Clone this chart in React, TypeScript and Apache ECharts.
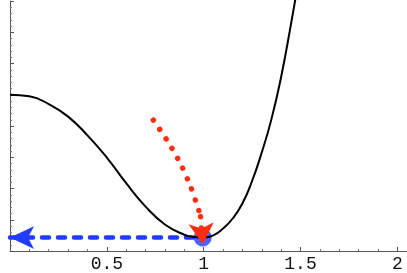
import React, { useEffect, useRef } from "react";
import * as echarts from "echarts";

// Black curve f(x)
const curveX = [0, 0.1, 0.2, 0.3, 0.4, 0.5, 0.6, 0.7, 0.8, 0.9, 0.95, 1.0, 1.05, 1.1, 1.15, 1.2, 1.25, 1.3, 1.35, 1.4, 1.45, 1.48];
const curveY = [5.0, 4.95, 4.7, 4.3, 3.7, 2.99, 2.17, 1.42, 0.85, 0.52, 0.45, 0.43, 0.5, 0.72, 1.04, 1.52, 2.24, 3.15, 4.22, 5.57, 7.23, 8.3];

// Red dotted path
const redX = [0.74, 0.809, 0.874, 0.925, 0.967, 0.984];
const redY = [4.19, 3.56, 2.87, 2.18, 1.46, 1.1];
const redArrowEnd = [0.996, 0.22];

// Blue dashed arrow and point
const bluePoint = [0.995, 0.43];
const blueArrowStart = [0.0, 0.43];

// Axis ticks
const xTickLabels = ["0.5", "1", "1.5", "2"];

export default function App() {
  const ref = useRef<HTMLDivElement>(null);
  useEffect(() => {
    if (!ref.current) return;
    const chart = echarts.init(ref.current, null, { renderer: "svg" });
    const curve = curveX.map((x, i) => [x, curveY[i]]);
    const red = redX.map((x, i) => [x, redY[i]]);
    const RED = "#ff2e12";
    const BLUE = "#1f3cff";
    chart.setOption({
      animation: false,
      grid: { left: 10, right: 0, top: 1, bottom: 21.3, containLabel: false },
      xAxis: {
        type: "value",
        min: 0,
        max: 2.05,
        interval: 0.5,
        splitLine: { show: false },
        axisLine: { lineStyle: { color: "#555", width: 1 } },
        axisTick: { inside: true, length: 4, lineStyle: { color: "#555" } },
        minorTick: { show: true, splitNumber: 5, length: 2, lineStyle: { color: "#777" } },
        axisLabel: {
          color: "#111",
          fontFamily: "Liberation Mono",
          fontSize: 18,
          margin: 4,
          showMinLabel: false,
          showMaxLabel: false,
          formatter: (v: number) => {
            const s = String(Math.round(v * 100) / 100);
            return xTickLabels.indexOf(s) >= 0 ? s : "";
          },
        },
      },
      yAxis: {
        type: "value",
        min: 0,
        max: 8,
        interval: 1,
        splitLine: { show: false },
        axisLine: { show: true, lineStyle: { color: "#555", width: 1 } },
        axisTick: { show: true, inside: true, length: 4, lineStyle: { color: "#555" } },
        minorTick: { show: true, splitNumber: 5, length: 2, lineStyle: { color: "#777" } },
        axisLabel: { show: false },
      },
      series: [
        {
          type: "lines",
          coordinateSystem: "cartesian2d",
          z: 2,
          symbol: ["arrow", "none"],
          symbolSize: [[17, 24], [17, 24]],
          lineStyle: { color: BLUE, width: 4.5, type: [7, 9], cap: "round", opacity: 1, curveness: 0 },
          data: [{ coords: [blueArrowStart, bluePoint] }],
        },
        {
          type: "scatter",
          z: 3,
          symbol: "circle",
          symbolSize: 18,
          itemStyle: { color: BLUE },
          data: [bluePoint],
        },
        {
          type: "line",
          z: 4,
          data: curve,
          showSymbol: false,
          smooth: 0.5,
          clip: true,
          lineStyle: { color: "#000", width: 2 },
        },
        {
          type: "line",
          z: 5,
          data: red,
          showSymbol: false,
          smooth: 0.3,
          lineStyle: { color: RED, width: 5.5, type: [0.01, 11.3], cap: "round" },
        },
        {
          type: "lines",
          coordinateSystem: "cartesian2d",
          z: 6,
          symbol: ["none", "arrow"],
          symbolSize: [[19, 21], [19, 21]],
          lineStyle: { color: RED, width: 5.5, type: [0.01, 11.3], cap: "round", opacity: 1 },
          data: [{ coords: [red[red.length - 1], redArrowEnd] }],
        },
      ],
    });
    return () => chart.dispose();
  }, []);
  return <div ref={ref} style={{ position: "fixed", left: 0, top: 0, width: 407, height: 273 }} />;
}
